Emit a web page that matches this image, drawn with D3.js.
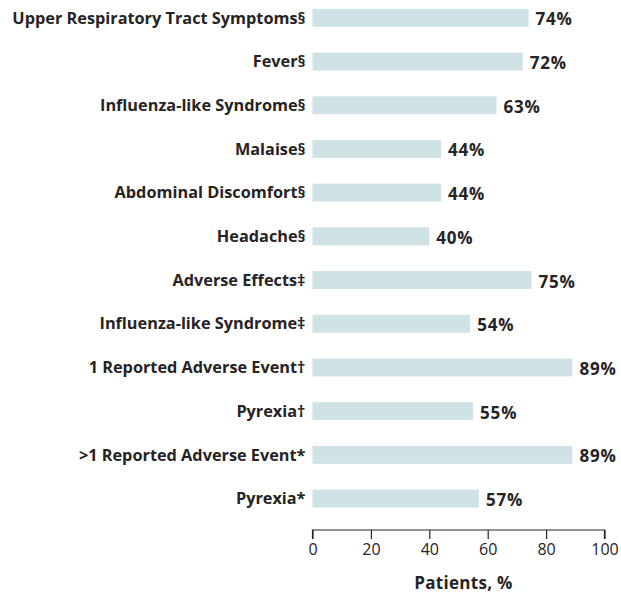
<!DOCTYPE html>
<html>
<head>
<meta charset="utf-8">
<script src="https://cdn.jsdelivr.net/npm/d3@7"></script>
<style>
  body { margin: 0; background: #fff; }
  text { font-family: "Open Sans", sans-serif; fill: #262324; }
  .cat { font-weight: 700; font-size: 16.3px; }
  .val { font-weight: 700; font-size: 17px; letter-spacing: 0.8px; }
  .axis text { font-size: 16px; font-weight: 400; }
  .axis path, .axis line { stroke: #262324; stroke-width: 1.2; }
  .axis-label { font-weight: 700; font-size: 17px; letter-spacing: 0.3px; }
</style>
</head>
<body>
<div id="chart"></div>
<script>
let categories = [
    'Upper Respiratory Tract Symptoms§',
    'Fever§',
    'Influenza-like Syndrome§',
    'Malaise§',
    'Abdominal Discomfort§',
    'Headache§',
    'Adverse Effects‡',
    'Influenza-like Syndrome‡',
    '1 Reported Adverse Event†',
    'Pyrexia†',
    '>1 Reported Adverse Event*',
    'Pyrexia*'
];
let values = [74, 72, 63, 44, 44, 40, 75, 54, 89, 55, 89, 57];
let xTicks = [0, 20, 40, 60, 80, 100];

let w = 621, h = 594;
let svg = d3.select('#chart').append('svg').attr('width', w).attr('height', h);

let x = d3.scaleLinear().domain([0, 100]).range([312.5, 604.5]);
let y = d3.scaleBand().domain(d3.range(categories.length))
    .range([-4, 520.4]) //each row centred in its step
    .paddingInner(0.59).paddingOuter(0.295);

let rows = svg.selectAll('.row').data(values).enter().append('g').classed('row', true);

rows.append('rect')
    .attr('x', x(0))
    .attr('y', (d, i) => y(i))
    .attr('width', d => x(d) - x(0))
    .attr('height', y.bandwidth())
    .style('fill', '#cfe3e6');

rows.append('text').classed('cat', true)
    .attr('x', x(0) - 7)
    .attr('y', (d, i) => y(i) + y.bandwidth() / 2)
    .attr('dy', '0.35em')
    .attr('text-anchor', 'end')
    .text((d, i) => categories[i]);

rows.append('text').classed('val', true)
    .attr('x', d => x(d) + 7)
    .attr('y', (d, i) => y(i) + y.bandwidth() / 2 + 1.5)
    .attr('dy', '0.35em')
    .text(d => d + '%');

let axisY = 530;
svg.append('g')
    .attr('class', 'axis')
    .attr('transform', 'translate(0,' + axisY + ')')
    .call(d3.axisBottom(x).tickValues(xTicks).tickSize(9).tickSizeOuter(0).tickPadding(5))
    .call(g => g.select('.domain').attr('d', 'M' + x(0) + ',9V0H' + x(100) + 'V9'));

svg.append('text')
    .classed('axis-label', true)
    .attr('text-anchor', 'middle')
    .attr('x', x(50) + 5)
    .attr('y', 589)
    .text('Patients, %');
</script>
</body>
</html>
